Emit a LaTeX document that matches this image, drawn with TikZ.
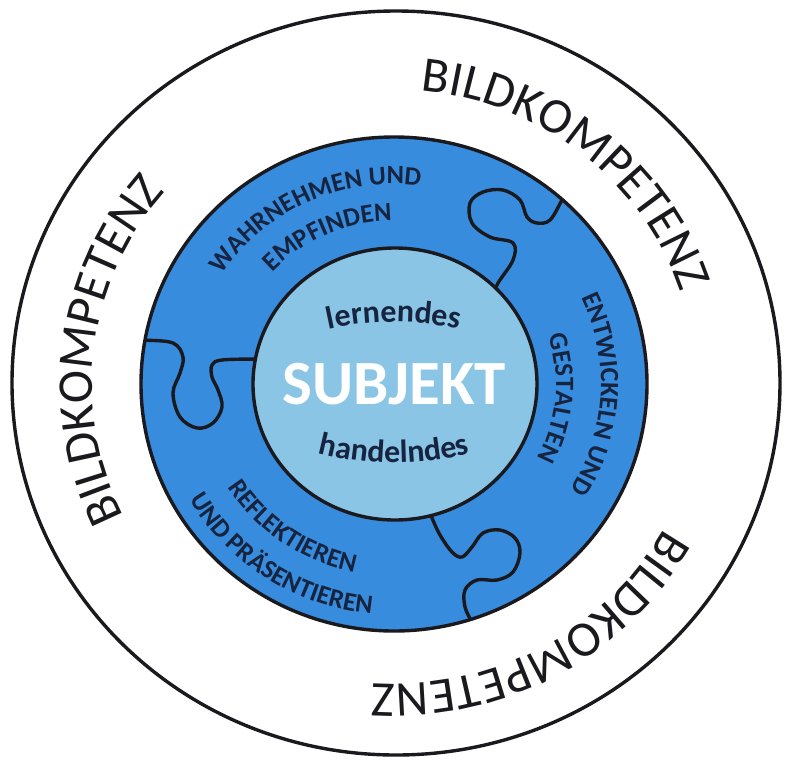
\documentclass[tikz,border=0pt]{standalone}
\usepackage{fontspec}
\setmainfont{Carlito}
\usepackage{tikz}
\usetikzlibrary{decorations.text}
\definecolor{ringblue}{RGB}{55,140,222}
\definecolor{coreblue}{RGB}{138,197,230}
\definecolor{textnavy}{RGB}{22,36,64}
\definecolor{linegray}{RGB}{25,25,30}
\newcommand\compfont{\fontsize{25}{29}\selectfont}
\newcommand\ringfont{\bfseries\fontsize{13.2}{15}\selectfont}
\newcommand\corefont{\bfseries\fontsize{16}{19}\selectfont}
\tikzstyle{outline} = [line width=1.7pt, draw=linegray]
\tikzstyle{seam} = [line width=1.7pt, draw=linegray, line join=round, line cap=round]
\tikzset{
  complabel/.style={decorate, decoration={text along path, text align=center, text color=linegray, text={|\compfont|#1}}},
  ringlabel/.style={decorate, decoration={text along path, text align=center, text color=textnavy, text={|\ringfont|#1}}},
  corelabel/.style={decorate, decoration={text along path, text align=center, text color=textnavy, text={|\corefont|#1}}}
}

\begin{document}
\begin{tikzpicture}[x=0.5pt, y=0.5pt]
	\fill[white] (-394,-378) rectangle (391,384);
	\useasboundingbox (-394,-378) rectangle (391,384);

	% rings
	\draw[outline] (2,1) ellipse [x radius=384, y radius=372];
	\fill[ringblue] (0,0) ellipse [x radius=253, y radius=247];

	% puzzle seams
	\begin{scope}
		\clip (0,0) ellipse [x radius=253, y radius=247];
		\draw[seam] plot[smooth, tension=0.6] coordinates {(100,90) (104,101) (119,124) (119,141) (96,147) (78,161) (76,181) (89,192) (109,194) (126,184) (133,167) (143,161) (156,164) (168,184) (176,198)};
		\draw[seam] plot[smooth, tension=0.6] coordinates {(-262,45) (-251,44) (-221,41) (-211,27) (-214,11) (-221,-9) (-214,-33) (-197,-44) (-181,-39) (-172,-23) (-176,-6) (-182,7) (-182,19) (-172,24) (-137,25) (-125,25)};
		\draw[seam] plot[smooth, tension=0.6] coordinates {(34,-124) (38,-134) (46,-151) (58,-168) (68,-173) (78,-163) (89,-149) (106,-146) (121,-154) (126,-169) (119,-188) (103,-196) (83,-196) (71,-206) (71,-223) (78,-239) (81,-252)};
	\end{scope}

	\draw[outline] (0,0) ellipse [x radius=253, y radius=247];
	\fill[coreblue, outline] (1,0) ellipse [x radius=142, y radius=136];

	% outer ring texts
	\path[complabel=BILDKOMPETENZ] (131:302 and 294) arc[start angle=131, end angle=-29, x radius=302, y radius=294];
	\path[complabel=BILDKOMPETENZ] (253:302 and 294) arc[start angle=253, end angle=93, x radius=302, y radius=294];
	\path[complabel=BILDKOMPETENZ] (19:308 and 300) arc[start angle=19, end angle=-141, x radius=308, y radius=300];

	% puzzle texts
	\path[ringlabel={WAHRNEHMEN UND}] (175:205 and 200) arc[start angle=175, end angle=55, x radius=205, y radius=200];
	\path[ringlabel={EMPFINDEN}] (174:167 and 163) arc[start angle=174, end angle=54, x radius=167, y radius=163];
	\path[ringlabel={ENTWICKELN UND}] (57:207 and 202) arc[start angle=57, end angle=-63, x radius=207, y radius=202];
	\path[ringlabel={GESTALTEN}] (55:162 and 158) arc[start angle=55, end angle=-65, x radius=162, y radius=158];
	\path[ringlabel={REFLEKTIEREN}] (175:197 and 192) arc[start angle=175, end angle=295, x radius=197, y radius=192];
	\path[ringlabel={UND PRÄSENTIEREN}] (177:236 and 231) arc[start angle=177, end angle=297, x radius=236, y radius=231];

	% core
	\path[corelabel=lernendes] (-102.6,43.9) arc[start angle=110, end angle=70, radius=300];
	\path[corelabel=handelndes] (-102.6,-60.9) arc[start angle=250, end angle=290, radius=300];
	\node[text=white, font=\bfseries\fontsize{31.5}{36}\selectfont] (Subjekt) at (0,0) {SUBJEKT};
\end{tikzpicture}
\end{document}
